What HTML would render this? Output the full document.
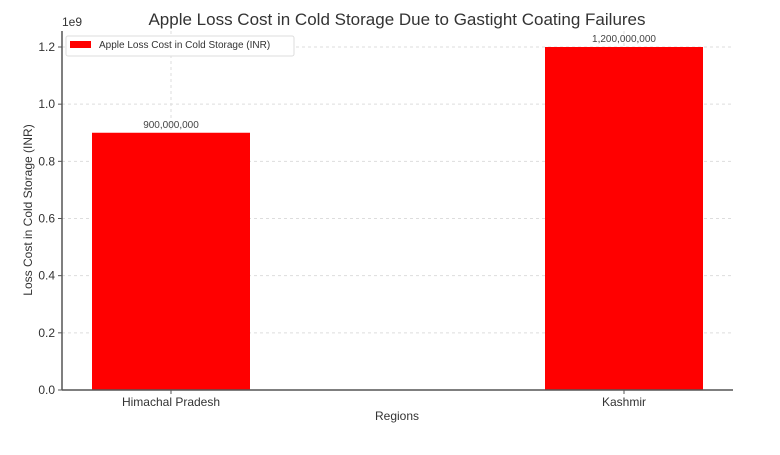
<!DOCTYPE html>
<html><head><meta charset="utf-8"><style>
body{margin:0;background:#fff;}
svg{font-family:"Liberation Sans","DejaVu Sans",sans-serif;}
</style></head><body>
<svg id="chart" width="780" height="450">
<text x="397" y="25" font-size="17" fill="#333" text-anchor="middle">Apple Loss Cost in Cold Storage Due to Gastight Coating Failures</text>
<text x="62" y="26" font-size="12" fill="#333">1e9</text>
<g id="grid"></g><g id="bars"></g><g id="axes"></g>
<text x="397" y="420" font-size="12" fill="#333" text-anchor="middle">Regions</text>
<text transform="translate(32,210) rotate(-90)" font-size="12" fill="#333" text-anchor="middle">Loss Cost in Cold Storage (INR)</text>
<g>
<rect x="66" y="36" width="228" height="20" fill="#fff" stroke="#ddd" rx="2"></rect>
<rect x="70" y="41" width="21" height="7" fill="#ff0000"></rect>
<text x="99" y="48" font-size="10" fill="#333">Apple Loss Cost in Cold Storage (INR)</text>
</g>
</svg>
<script>
const categories=["Himachal Pradesh","Kashmir"];
const values=[900000000,1200000000];
const valueLabels=["900,000,000","1,200,000,000"];
const yTicks=[0,0.2,0.4,0.6,0.8,1.0,1.2];
const yTickLabels=["0.0","0.2","0.4","0.6","0.8","1.0","1.2"];
const NS="http://www.w3.org/2000/svg";
const L=62,R=733,T=31,B=390;
const y=v=>B-(v/1.2e9)*(390-47);
const x=i=>171+i*453;
const bw=158;
function mk(t,a,p){const e=document.createElementNS(NS,t);for(const k in a)e.setAttribute(k,a[k]);p.appendChild(e);return e;}
const grid=document.getElementById('grid'),bars=document.getElementById('bars'),axes=document.getElementById('axes');
yTicks.forEach((t,i)=>{const yy=y(t*1e9);
 const g=mk('line',{x1:L,x2:R,y1:yy,y2:yy,stroke:'#ddd','stroke-dasharray':'3,3'},grid);
 
 
 mk('line',{x1:L-4,x2:L,y1:yy,y2:yy,stroke:'#555'},axes);
 const tl=mk('text',{x:L-7,y:yy+4,'font-size':12,fill:'#333','text-anchor':'end'},axes);
 tl.textContent=yTickLabels[i];
 
 
});
categories.forEach((c,i)=>{const cx=x(i);
 const g=mk('line',{x1:cx,x2:cx,y1:T,y2:B,stroke:'#ddd','stroke-dasharray':'3,3'},grid);
 
 
 const b=mk('rect',{x:cx-bw/2,y:y(values[i]),width:bw,height:B-y(values[i]),fill:'#ff0000'},bars);
 
 
 const vl=mk('text',{x:cx,y:y(values[i])-5,'font-size':10,fill:'#444','text-anchor':'middle'},bars);
 vl.textContent=valueLabels[i];
 
 
 mk('line',{x1:cx,x2:cx,y1:B,y2:B+4,stroke:'#555'},axes);
 const tl=mk('text',{x:cx,y:B+16,'font-size':12,fill:'#333','text-anchor':'middle'},axes);
 tl.textContent=c;
 
 
});
const ly=mk('line',{x1:L,x2:L,y1:T,y2:B,stroke:'#555','stroke-width':1.5},axes);


const lx=mk('line',{x1:L,x2:R,y1:B,y2:B,stroke:'#555','stroke-width':1.5},axes);


</script>
</body></html>
